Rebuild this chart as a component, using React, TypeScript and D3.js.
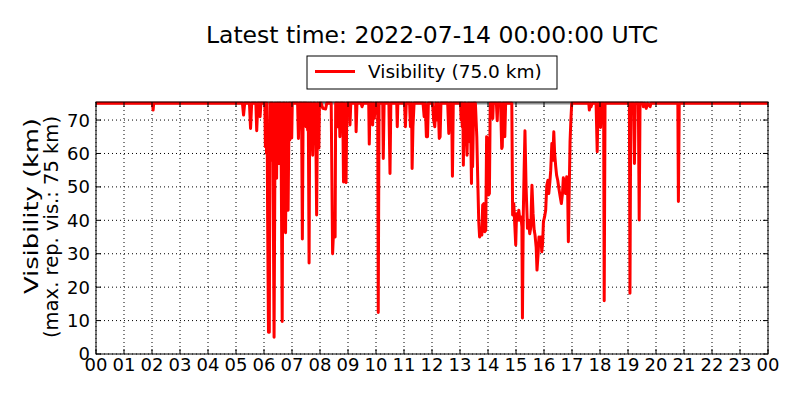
import React from 'react'
import * as d3 from 'd3'

// visibility readings as [hour of day, km]
const nightReadings: [number, number][] = [
  [0, 75], [2.02, 75], [2.04, 73], [2.06, 75], [5.23, 75], [5.27, 71.5], [5.31, 75],
  [5.48, 75], [5.52, 67.5], [5.56, 75], [5.71, 75], [5.74, 66.8], [5.78, 75],
  [5.84, 75], [5.86, 71], [5.89, 75], [6.03, 75],
  [6.05, 62], [6.07, 75], [6.09, 60], [6.11, 75], [6.13, 40], [6.16, 6.5], [6.19, 6.5],
  [6.21, 62], [6.23, 75], [6.25, 58], [6.27, 75], [6.29, 65], [6.31, 75], [6.33, 45],
  [6.36, 5], [6.38, 40], [6.4, 75], [6.42, 58], [6.45, 52.6], [6.47, 75], [6.49, 60],
  [6.51, 75], [6.54, 57], [6.56, 75], [6.58, 58], [6.6, 75], [6.62, 50], [6.65, 9.7],
  [6.67, 60], [6.69, 75], [6.71, 58], [6.73, 75], [6.75, 45], [6.77, 36.3], [6.79, 58],
  [6.81, 75], [6.83, 60], [6.86, 43], [6.88, 60], [6.9, 75], [6.92, 64], [6.94, 75],
  [6.97, 64.6], [6.99, 64.6], [7.01, 75],
]

const morningReadings: [number, number][] = [
  [7.2, 75], [7.23, 64.5], [7.26, 75], [7.34, 75], [7.37, 34.4], [7.4, 75],
  [7.44, 75], [7.46, 70], [7.48, 75], [7.5, 68], [7.52, 75], [7.54, 70], [7.56, 67],
  [7.58, 75], [7.61, 27.2], [7.63, 67], [7.65, 75], [7.67, 67], [7.69, 75], [7.71, 68],
  [7.74, 59.5], [7.76, 68], [7.78, 75], [7.8, 67], [7.82, 75], [7.85, 67], [7.88, 41.6],
  [7.9, 61.6], [7.92, 75], [7.94, 61.6], [7.96, 61.6], [7.98, 75], [8.04, 75],
  [8.1, 73.5], [8.2, 73.3], [8.24, 75], [8.4, 75], [8.45, 30], [8.5, 40], [8.54, 35],
  [8.56, 75], [8.58, 70], [8.6, 75], [8.62, 68], [8.64, 75], [8.66, 68], [8.68, 75],
  [8.71, 65], [8.74, 75], [8.81, 75], [8.84, 51.5], [8.87, 75], [8.9, 52], [8.93, 51.3],
  [8.96, 75], [9.05, 75], [9.07, 68.5], [9.1, 75], [9.27, 75], [9.29, 66.5], [9.32, 75],
  [9.47, 75], [9.5, 74], [9.54, 75], [9.74, 75], [9.76, 62.8], [9.79, 75], [9.85, 75],
  [9.88, 68.5], [9.91, 75], [9.94, 70.5], [9.98, 75], [10.06, 75], [10.08, 12.4],
  [10.11, 75], [10.24, 75], [10.26, 58.5], [10.29, 75], [10.46, 75], [10.5, 54],
  [10.53, 75], [10.74, 75], [10.76, 68], [10.78, 75], [11.02, 75], [11.05, 68],
  [11.08, 75], [11.2, 75], [11.23, 68], [11.27, 75], [11.29, 55.5], [11.32, 68],
  [11.36, 75], [11.68, 75], [11.72, 71], [11.76, 75], [11.8, 65], [11.84, 65],
  [11.87, 75], [12.02, 75], [12.06, 70], [12.1, 68], [12.14, 75], [12.18, 70],
  [12.22, 75], [12.26, 64.5], [12.29, 65], [12.32, 75], [12.56, 75], [12.6, 66],
  [12.64, 75], [12.7, 75], [12.73, 53.2], [12.76, 75],
]

const afternoonReadings: [number, number][] = [
  [13.02, 75], [13.04, 70], [13.06, 75], [13.08, 68], [13.1, 75], [13.12, 56.5],
  [13.14, 70], [13.16, 75], [13.18, 65], [13.2, 75], [13.22, 66], [13.25, 59.5],
  [13.28, 70], [13.3, 75], [13.32, 66], [13.34, 63.5], [13.36, 75], [13.38, 68],
  [13.41, 51], [13.43, 75], [13.45, 56], [13.47, 65], [13.49, 75], [13.55, 75],
  [13.6, 65], [13.64, 50], [13.67, 39.6], [13.7, 35], [13.74, 36], [13.78, 35.6],
  [13.81, 44.6], [13.85, 45], [13.88, 36.6], [13.92, 37], [13.95, 65], [13.98, 64.5],
  [14.02, 47.6], [14.05, 48], [14.08, 75], [14.15, 75], [14.17, 70.5], [14.19, 75],
  [14.3, 75], [14.33, 69.8], [14.35, 75], [14.45, 75], [14.49, 61.5], [14.51, 62],
  [14.54, 75], [14.58, 75], [14.6, 65], [14.63, 75], [14.85, 75],
  [14.88, 41.6], [14.92, 45], [14.96, 38], [14.99, 32.6], [15.02, 42], [15.06, 40],
  [15.1, 43], [15.14, 40], [15.18, 41], [15.21, 38], [15.23, 10.8], [15.26, 41.6],
  [15.29, 55], [15.32, 66.8], [15.36, 50], [15.41, 37.6], [15.45, 40], [15.49, 36],
  [15.53, 38], [15.55, 45], [15.57, 50.5], [15.61, 42], [15.65, 37], [15.68, 35.6],
  [15.72, 32], [15.75, 25.1], [15.79, 30], [15.82, 35], [15.86, 34], [15.89, 35],
  [15.92, 30.6], [15.95, 33], [15.98, 39.6], [16.02, 41], [16.06, 43], [16.1, 50.5],
  [16.14, 52], [16.17, 48], [16.21, 51.5], [16.24, 55], [16.28, 63], [16.31, 58],
  [16.35, 66.5], [16.38, 60], [16.42, 56], [16.45, 53.5], [16.49, 52], [16.53, 49.6],
  [16.58, 47], [16.62, 45], [16.66, 48], [16.69, 52.7], [16.73, 51], [16.77, 48],
  [16.81, 53], [16.84, 51.7], [16.87, 33.6], [16.93, 63.5], [16.96, 70], [16.99, 75],
]

const eveningReadings: [number, number][] = [
  [17.6, 75], [17.62, 73], [17.66, 75], [17.68, 74], [17.72, 75], [17.86, 75],
  [17.9, 60.5], [17.93, 75], [18.0, 75], [18.02, 67.8], [18.05, 75], [18.13, 75],
  [18.15, 15.9], [18.18, 75], [19.05, 75], [19.07, 18.2], [19.1, 75], [19.2, 75],
  [19.23, 57], [19.26, 75], [19.37, 75], [19.4, 40.1], [19.43, 75], [19.53, 75],
  [19.55, 74], [19.6, 75], [19.65, 73.5], [19.7, 75], [19.79, 74], [19.82, 75],
  [20.78, 75], [20.8, 45.6], [20.83, 75], [24, 75],
]

const maxReportedVis = 75
const hourTicks = d3.range(0, 25)
const hourLabels = [
  '00', '01', '02', '03', '04', '05', '06', '07', '08', '09', '10', '11',
  '12', '13', '14', '15', '16', '17', '18', '19', '20', '21', '22', '23', '00',
]
const visTicks = [0, 10, 20, 30, 40, 50, 60, 70]

const titleText = 'Latest time: 2022-07-14 00:00:00 UTC'
const legendText = 'Visibility (75.0 km)'

export default function App() {
  const width = 800
  const height = 400
  const margin = { top: 102, right: 32, bottom: 46, left: 96 }
  const innerW = width - margin.left - margin.right
  const innerH = height - margin.top - margin.bottom

  const readings = [...nightReadings, ...morningReadings, ...afternoonReadings, ...eveningReadings]

  const x = d3.scaleLinear().domain([0, 24]).range([0, innerW])
  const y = d3.scaleLinear().domain([0, 75.4]).range([innerH, 0])

  const line = d3.line<[number, number]>()
    .x(d => x(d[0]))
    .y(d => y(d[1]))

  const font = '"DejaVu Sans", sans-serif'
  const tickLen = 5

  return (
    <div style={{ position: 'fixed', left: 0, top: 0 }}>
      <svg width={width} height={height} style={{ display: 'block', background: '#fff', fontFamily: font }}>
        <text x={margin.left + innerW / 2} y={43} textAnchor="middle" fontSize={23.5} fill="#000">
          {titleText}
        </text>

        {/* legend */}
        <g transform="translate(307,56)">
          <rect width={250} height={33} fill="#fff" stroke="#000" strokeWidth={1} />
          <line x1={8} x2={48} y1={15.5} y2={15.5} stroke="#ff0000" strokeWidth={2.8} />
          <text x={61} y={22} fontSize={18.5} fill="#000">{legendText}</text>
        </g>

        <defs>
          <clipPath id="plot-clip">
            <rect x={0} y={-2} width={innerW} height={innerH + 2} />
          </clipPath>
        </defs>

        <g transform={`translate(${margin.left},${margin.top})`}>
          {/* grid */}
          {hourTicks.map(h => (
            <line key={'gx' + h} x1={x(h)} x2={x(h)} y1={0} y2={innerH}
              stroke="#000" strokeWidth={1} strokeDasharray="1 3" />
          ))}
          {visTicks.map(v => (
            <line key={'gy' + v} x1={0} x2={innerW} y1={y(v)} y2={y(v)}
              stroke="#000" strokeWidth={1} strokeDasharray="1 3" />
          ))}

          <g clipPath="url(#plot-clip)">
            <line x1={0} x2={innerW} y1={y(maxReportedVis)} y2={y(maxReportedVis)}
              stroke="#909090" strokeWidth={2.5} />
            <path d={line(readings) || ''} fill="none" stroke="#ff0000" strokeWidth={3}
              strokeLinejoin="round" />
          </g>

          {/* frame */}
          <rect x={0} y={0} width={innerW} height={innerH} fill="none" stroke="#000" strokeWidth={1} />

          {/* ticks, inward on all sides */}
          {hourTicks.map(h => (
            <g key={'tx' + h}>
              <line x1={x(h)} x2={x(h)} y1={innerH} y2={innerH - tickLen} stroke="#000" />
              <line x1={x(h)} x2={x(h)} y1={0} y2={tickLen} stroke="#000" />
            </g>
          ))}
          {visTicks.map(v => (
            <g key={'ty' + v}>
              <line x1={0} x2={tickLen} y1={y(v)} y2={y(v)} stroke="#000" />
              <line x1={innerW} x2={innerW - tickLen} y1={y(v)} y2={y(v)} stroke="#000" />
            </g>
          ))}

          {hourTicks.map((h, i) => (
            <text key={'lx' + h} x={x(h)} y={innerH + 17} textAnchor="middle" fontSize={18} fill="#000">
              {hourLabels[i]}
            </text>
          ))}
          {visTicks.map(v => (
            <text key={'ly' + v} x={-6} y={y(v)} dy="0.36em" textAnchor="end" fontSize={18} fill="#000">
              {v}
            </text>
          ))}
        </g>

        <text transform="translate(38,206) rotate(-90)" textAnchor="middle" fontSize={19}
          textLength={176} lengthAdjust="spacingAndGlyphs" fill="#000">
          Visibility (km)
        </text>
        <text transform="translate(58,227) rotate(-90)" textAnchor="middle" fontSize={19}
          textLength={222} lengthAdjust="spacingAndGlyphs" fill="#000">
          (max. rep. vis.: 75 km)
        </text>
      </svg>
    </div>
  )
}
